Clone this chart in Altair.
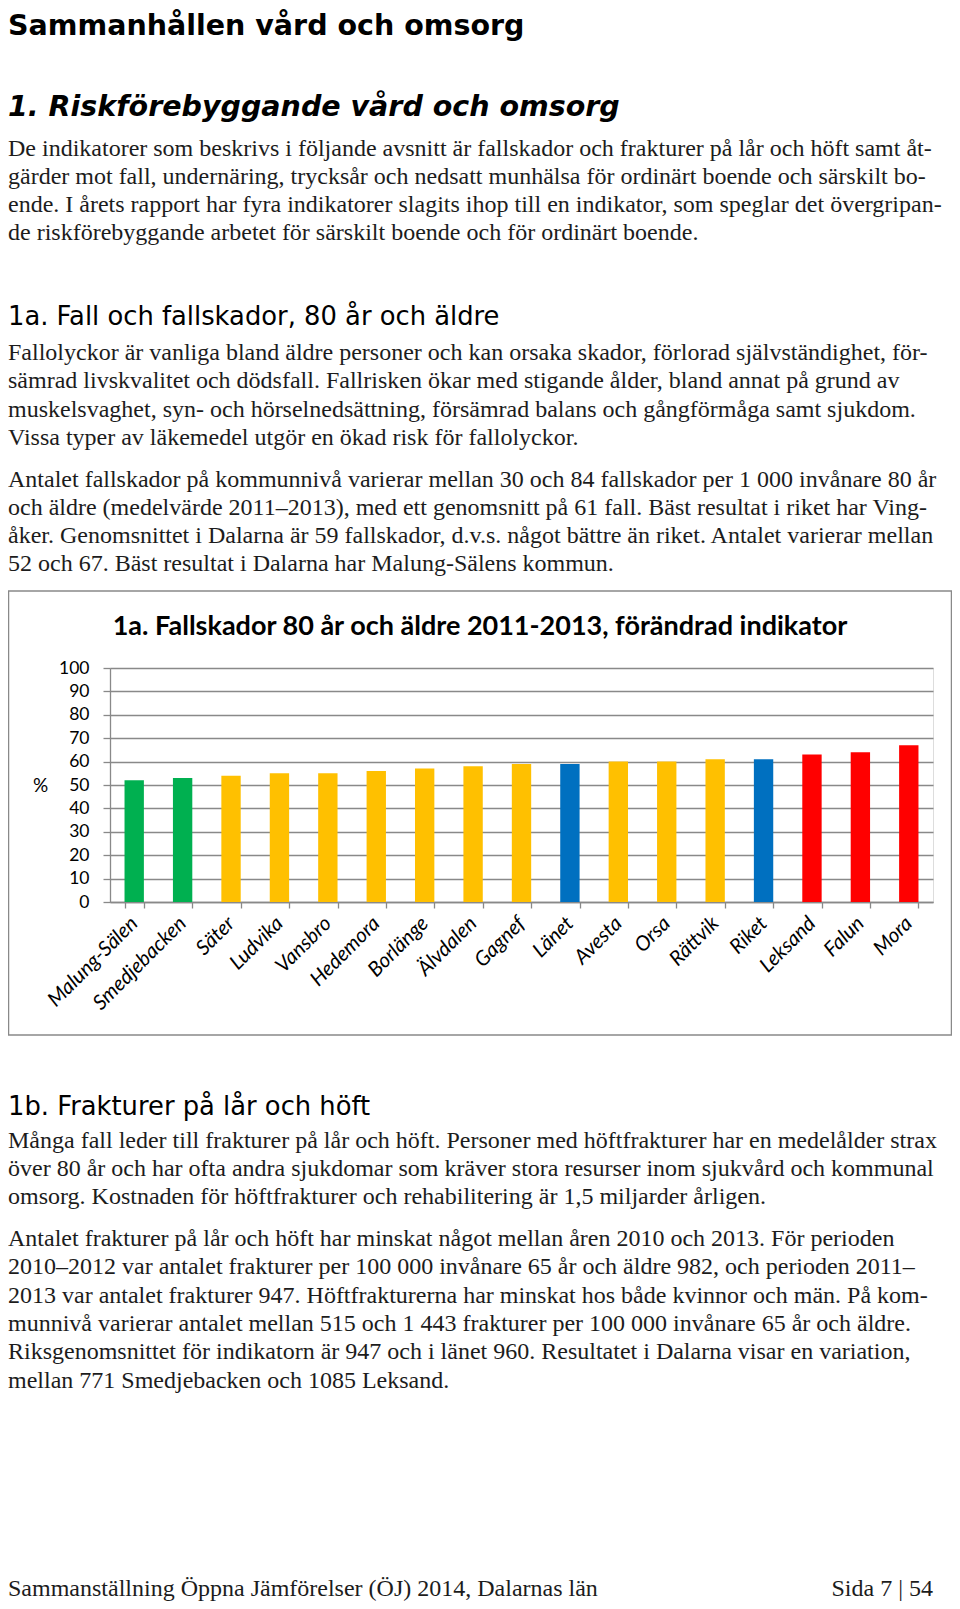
import altair as alt
import pandas as pd

# ---------------- data ----------------
kommuner = ["Malung-Sälen", "Smedjebacken", "Säter", "Ludvika", "Vansbro", "Hedemora",
            "Borlänge", "Älvdalen", "Gagnef", "Länet", "Avesta", "Orsa", "Rättvik",
            "Riket", "Leksand", "Falun", "Mora"]
varden = [52, 53, 54, 55, 55, 56, 57, 58, 59, 59, 60, 60, 61, 61, 63, 64, 67]
grupp = ["Bäst", "Bäst", "Mitten", "Mitten", "Mitten", "Mitten", "Mitten", "Mitten",
         "Mitten", "Jämförelse", "Mitten", "Mitten", "Mitten", "Jämförelse",
         "Sämst", "Sämst", "Sämst"]
grupp_namn = ["Bäst", "Mitten", "Jämförelse", "Sämst"]
grupp_farg = ["#00B050", "#FFC000", "#0070C0", "#FF0000"]
y_ticks = [0, 10, 20, 30, 40, 50, 60, 70, 80, 90, 100]

diagram_titel = "1a. Fallskador 80 år och äldre 2011-2013, förändrad indikator"
rubrik_1 = "Sammanhållen vård och omsorg"
rubrik_2 = "1. Riskförebyggande vård och omsorg"
rubrik_3 = "1a. Fall och fallskador, 80 år och äldre"
rubrik_4 = "1b. Frakturer på lår och höft"

stycke_1 = [
    "De indikatorer som beskrivs i följande avsnitt är fallskador och frakturer på lår och höft samt åt-",
    "gärder mot fall, undernäring, trycksår och nedsatt munhälsa för ordinärt boende och särskilt bo-",
    "ende. I årets rapport har fyra indikatorer slagits ihop till en indikator, som speglar det övergripan-",
    "de riskförebyggande arbetet för särskilt boende och för ordinärt boende.",
]
stycke_2 = [
    "Fallolyckor är vanliga bland äldre personer och kan orsaka skador, förlorad självständighet, för-",
    "sämrad livskvalitet och dödsfall. Fallrisken ökar med stigande ålder, bland annat på grund av",
    "muskelsvaghet, syn- och hörselnedsättning, försämrad balans och gångförmåga samt sjukdom.",
    "Vissa typer av läkemedel utgör en ökad risk för fallolyckor.",
]
stycke_3 = [
    "Antalet fallskador på kommunnivå varierar mellan 30 och 84 fallskador per 1 000 invånare 80 år",
    "och äldre (medelvärde 2011–2013), med ett genomsnitt på 61 fall. Bäst resultat i riket har Ving-",
    "åker. Genomsnittet i Dalarna är 59 fallskador, d.v.s. något bättre än riket. Antalet varierar mellan",
    "52 och 67. Bäst resultat i Dalarna har Malung-Sälens kommun.",
]
stycke_4 = [
    "Många fall leder till frakturer på lår och höft. Personer med höftfrakturer har en medelålder strax",
    "över 80 år och har ofta andra sjukdomar som kräver stora resurser inom sjukvård och kommunal",
    "omsorg. Kostnaden för höftfrakturer och rehabilitering är 1,5 miljarder årligen.",
]
stycke_5 = [
    "Antalet frakturer på lår och höft har minskat något mellan åren 2010 och 2013. För perioden",
    "2010–2012 var antalet frakturer per 100 000 invånare 65 år och äldre 982, och perioden 2011–",
    "2013 var antalet frakturer 947. Höftfrakturerna har minskat hos både kvinnor och män. På kom-",
    "munnivå varierar antalet mellan 515 och 1 443 frakturer per 100 000 invånare 65 år och äldre.",
    "Riksgenomsnittet för indikatorn är 947 och i länet 960. Resultatet i Dalarna visar en variation,",
    "mellan 771 Smedjebacken och 1085 Leksand.",
]
sidfot_vanster = "Sammanställning Öppna Jämförelser (ÖJ) 2014, Dalarnas län"
sidfot_hoger = "Sida 7 | 54"

df = pd.DataFrame({"kommun": kommuner, "varde": varden, "grupp": grupp})

# ---------------- layout helpers ----------------
OX, OY = 110, 666          # plot origin in page coordinates (reference)
W, H = 823, 234
GRAY = "#898989"
HEAD_FONT = "DejaVu Sans"
BODY_FONT = "Liberation Serif"
CHART_FONT = "Lato"


def px(x):
    return x - OX


def py(y):
    return y - OY


def text_block(lines, x, y, font, size, weight="normal", style="normal",
               align="left", color="#111111", lh=28.3):
    return alt.Chart(alt.Data(values=[{"rad": lines}])).mark_text(
        align=align, baseline="alphabetic", font=font, fontSize=size,
        fontWeight=weight, fontStyle=style, color=color, lineHeight=lh,
    ).encode(x=alt.value(x), y=alt.value(y), text=alt.Text("rad:N"))


TX = px(8)

ram = alt.Chart(alt.Data(values=[{"a": 1}])).mark_rect(
    fill="transparent", stroke=GRAY, strokeWidth=1.5
).encode(x=alt.value(px(8.5)), x2=alt.value(W + 18.5),
         y=alt.value(py(589)), y2=alt.value(py(1033)))

bars = alt.Chart(df).mark_bar().encode(
    x=alt.X("kommun:N", sort=kommuner,
            scale=alt.Scale(paddingInner=0.6, paddingOuter=0.3),
            axis=alt.Axis(title=None, labelAngle=-45, labelAlign="right",
                          labelBaseline="middle", labelFont=CHART_FONT,
                          labelFontStyle="italic", labelFontSize=20.5,
                          labelColor="#000000", labelPadding=12,
                          tickBand="extent", tickSize=6, tickColor=GRAY,
                          tickWidth=1.3, domainColor=GRAY, domainWidth=1.3,
                          grid=False)),
    y=alt.Y("varde:Q", scale=alt.Scale(domain=[0, 100]),
            axis=alt.Axis(values=y_ticks, title="%", titleAngle=0,
                          titleX=-70, titleY=H / 2, titleAlign="center",
                          titleBaseline="middle", titleFont=CHART_FONT,
                          titleFontSize=19, titleFontWeight="normal",
                          titleColor="#000000",
                          labelFont=CHART_FONT, labelFontSize=17.5,
                          labelColor="#000000", labelPadding=14,
                          tickSize=7, tickColor=GRAY, tickWidth=1.3,
                          domainColor=GRAY, domainWidth=1.3,
                          gridColor=GRAY, gridWidth=1.3)),
    color=alt.Color("grupp:N", scale=alt.Scale(domain=grupp_namn, range=grupp_farg),
                    legend=None),
)

layers = [
    ram,
    bars,
    text_block([rubrik_1], TX, py(32.6), HEAD_FONT, 28.5, weight="bold", color="#000000"),
    text_block([rubrik_2], TX, py(114), HEAD_FONT, 28.5, weight="bold", style="italic", color="#000000"),
    text_block(stycke_1, TX, py(153.5), BODY_FONT, 24, color="#1c1c1c"),
    text_block([rubrik_3], TX, py(323.3), HEAD_FONT, 25.8, color="#000000"),
    text_block(stycke_2, TX, py(358), BODY_FONT, 24, color="#1c1c1c"),
    text_block(stycke_3, TX, py(484.5), BODY_FONT, 24, color="#1c1c1c"),
    text_block([diagram_titel], px(480), py(632.5), CHART_FONT, 27, weight="bold",
               align="center", color="#000000"),
    text_block([rubrik_4], TX, py(1113), HEAD_FONT, 25.8, color="#000000"),
    text_block(stycke_4, TX, py(1145.5), BODY_FONT, 24, color="#1c1c1c"),
    text_block(stycke_5, TX, py(1244), BODY_FONT, 24, color="#1c1c1c"),
    text_block([sidfot_vanster], TX, 927.5, BODY_FONT, 24, color="#1c1c1c"),
    text_block([sidfot_hoger], px(933), 927.5, BODY_FONT, 24, align="right", color="#1c1c1c"),
]

chart = alt.layer(*layers).properties(
    width=W, height=H,
    autosize=alt.AutoSizeParams(type="none"),
    padding={"left": 102, "top": 660, "right": 19, "bottom": 699},
).configure_view(strokeWidth=0).configure(background="white")

chart.save("out.html", embed_options={"renderer": "svg", "actions": False})
